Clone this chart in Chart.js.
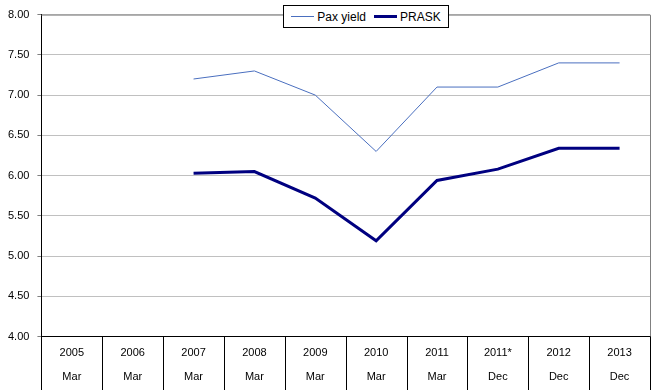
<!DOCTYPE html>
<html>
<head>
<meta charset="utf-8">
<script src="https://cdn.jsdelivr.net/npm/chart.js@4/dist/chart.umd.min.js"></script>
<style>
  body { margin: 0; background: #fff; font-family: "Liberation Sans", Arial, sans-serif; }
  #wrap { position: relative; width: 661px; height: 390px; }
  #legend {
    position: absolute; left: 283px; top: 5px; width: 164px; height: 21px;
    border: 1px solid #000; background: #fff;
    display: flex; align-items: center; justify-content: center;
    font-size: 12px; color: #000;
  }
  #legend .item { display: flex; align-items: center; margin: 0 4px; }
  #legend .swatch { width: 23px; margin-right: 3px; }
</style>
</head>
<body>
<div id="wrap">
  <canvas id="myChart" width="661" height="390"></canvas>
  <div id="legend"></div>
</div>
<script>
const years = ['2005', '2006', '2007', '2008', '2009', '2010', '2011', '2011*', '2012', '2013'];
const months = ['Mar', 'Mar', 'Mar', 'Mar', 'Mar', 'Mar', 'Mar', 'Dec', 'Dec', 'Dec'];
const paxYield = [null, null, 7.20, 7.30, 7.00, 6.30, 7.10, 7.10, 7.40, 7.40];
const prask = [null, null, 6.03, 6.05, 5.72, 5.19, 5.94, 6.08, 6.34, 6.34];

const labels = years.map((y, i) => [y, months[i]]);

// gray border on top and right of the plot area, black category separators below
const plotBorder = {
  id: 'plotBorder',
  afterDraw(chart) {
    const { ctx, chartArea: a } = chart;
    const xs = chart.scales.x;
    ctx.save();
    ctx.strokeStyle = '#808080';
    ctx.lineWidth = 1;
    ctx.beginPath();
    ctx.moveTo(a.left, a.top + 0.5);
    ctx.lineTo(a.right + 0.5, a.top + 0.5);
    ctx.lineTo(a.right + 0.5, a.bottom);
    ctx.stroke();

    ctx.strokeStyle = '#000';
    ctx.beginPath();
    const n = xs.ticks.length;
    const step = n > 1 ? xs.getPixelForTick(1) - xs.getPixelForTick(0) : xs.width;
    for (let i = 0; i <= n; i++) {
      const px = Math.round(xs.getPixelForTick(0) - step / 2 + i * step) + 0.5;
      ctx.moveTo(px, a.bottom);
      ctx.lineTo(px, chart.height);
    }
    ctx.stroke();
    ctx.restore();
  }
};

let myChart = document.getElementById('myChart').getContext('2d');

let yieldChart = new Chart(myChart, {
  type: 'line',
  data: {
    labels: labels,
    datasets: [{
      label: 'Pax yield',
      data: paxYield,
      borderColor: '#4A6FBF',
      borderWidth: 1,
      pointRadius: 0,
      tension: 0,
      fill: false
    }, {
      label: 'PRASK',
      data: prask,
      borderColor: '#000080',
      borderWidth: 3,
      pointRadius: 0,
      tension: 0,
      fill: false
    }]
  },
  options: {
    responsive: false,
    animation: false,
    layout: { padding: { left: 0, top: 6, right: 11, bottom: -3 } },
    scales: {
      x: {
        offset: true,
        grid: { display: false, drawTicks: false },
        border: { color: '#000', width: 1 },
        ticks: {
          color: '#000',
          padding: 4,
          maxRotation: 0,
          autoSkip: false,
          font: { family: '"Liberation Sans", Arial', size: 11, lineHeight: 2.2 }
        }
      },
      y: {
        min: 4,
        max: 8,
        ticks: {
          stepSize: 0.5,
          color: '#000',
          padding: 8,
          font: { family: '"Liberation Sans", Arial', size: 11 },
          callback: (v) => v.toFixed(2)
        },
        grid: { color: '#c0c0c0', tickColor: '#808080', tickLength: 4 },
        border: { color: '#000', width: 1 }
      }
    },
    plugins: {
      legend: { display: false },
      tooltip: { enabled: false }
    }
  },
  plugins: [plotBorder]
});

// html legend overlapping the top of the plot
const legendEl = document.getElementById('legend');
yieldChart.data.datasets.forEach((ds) => {
  const item = document.createElement('div');
  item.className = 'item';
  const sw = document.createElement('div');
  sw.className = 'swatch';
  sw.style.borderTop = ds.borderWidth + 'px solid ' + ds.borderColor;
  const txt = document.createElement('span');
  txt.textContent = ds.label;
  item.appendChild(sw);
  item.appendChild(txt);
  legendEl.appendChild(item);
});
</script>
</body>
</html>
